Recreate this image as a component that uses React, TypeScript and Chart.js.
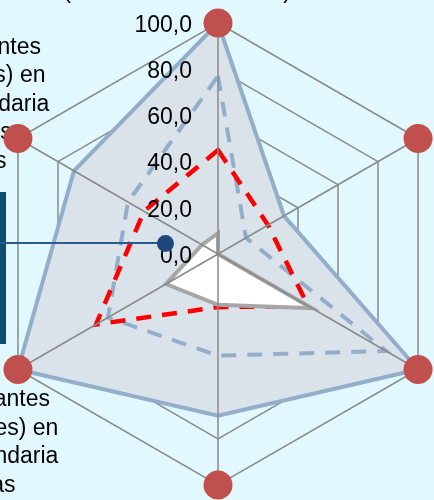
import React, { useEffect, useRef } from "react";
import { Chart, registerables } from "chart.js";

Chart.register(...registerables);

// ---- data ----
const categories: string[][] = [
  ["Docentes titulados", "(en escuelas urbanas)"],
  ["Docentes titulados", "(en escuelas rurales)"],
  ["Escuelas con", "internet"],
  ["Escuelas con", "biblioteca"],
  ["Estudiantes", "(hombres) en", "la secundaria", "otras"],
  ["Estudiantes", "(mujeres) en", "la secundaria", "becas", "otras"],
];
const seriesSolid = [100, 33, 100, 70, 100, 72];
const seriesBlueDash = [77, 14, 84, 44, 55, 45];
const seriesRedDash = [45, 25, 45, 23, 61, 37];
const seriesGray = [9, 0, 47, 22, 26, 8];
const maxMarks = [100, 100, 100, 100, 100, 100];
const scaleMin = 0;
const scaleMax = 100;
const scaleStep = 20;

// ---- styles ----
const BG = "#e1f8fe";
const GRID = "#8a8a8a";
const BLUE = "#93aecb";
const FILL = "#dbe3ea";
const RED = "#ff0000";
const GRAY = "#a6a6a6";
const CIRCLE = "#c0504d";
const FONT = '23px "Liberation Sans", Arial, sans-serif';

const fmt = (v: number) => v.toFixed(1).replace(".", ",");

const overlayPlugin = {
  id: "overlay",
  beforeDatasetDraw(chart: any, args: any) {
    if (args.index !== 0) return;
    const scale = chart.scales.r;
    const ctx = chart.ctx as CanvasRenderingContext2D;
    const n = chart.data.labels.length;
    const R = scale.drawingArea;
    ctx.save();
    // spokes drawn above the fills
    ctx.strokeStyle = GRID;
    ctx.lineWidth = 1.5;
    for (let i = 0; i < n; i++) {
      const p = scale.getPointPosition(i, R);
      ctx.beginPath();
      ctx.moveTo(scale.xCenter, scale.yCenter);
      ctx.lineTo(p.x, p.y);
      ctx.stroke();
    }
    // tick labels
    ctx.font = FONT;
    ctx.fillStyle = "#000";
    ctx.textAlign = "right";
    ctx.textBaseline = "middle";
    scale.ticks.forEach((t: any) => {
      const d = scale.getDistanceFromCenterForValue(t.value);
      ctx.fillText(fmt(t.value), scale.xCenter - 26, scale.yCenter - d + 2.5);
    });
    // point labels
    ctx.textAlign = "center";
    const lh = 28.5;
    const labels: string[][] = chart.data.labels;
    labels.forEach((lines, i) => {
      const p = scale.getPointPosition(i, R);
      let x = p.x;
      let y0 = p.y;
      if (i === 0) {
        x = p.x - 41;
        y0 = p.y - 25 - (lines.length - 1) * lh;
        ctx.textBaseline = "alphabetic";
      } else {
        ctx.textBaseline = "middle";
        if (i === 1) { x = p.x + 200; y0 = p.y - 91; }
        else if (i === 2) { x = p.x + 200; y0 = p.y + 30; }
        else if (i === 3) { x = p.x; y0 = p.y + 34; }
        else if (i === 4) { x = p.x - 28; y0 = p.y + 30.5; }
        else { x = p.x - 37; y0 = p.y - 91; }
      }
      lines.forEach((s, k) => ctx.fillText(s, x, y0 + k * lh));
    });
    ctx.restore();
  },
};

export default function App() {
  const ref = useRef<HTMLCanvasElement | null>(null);

  useEffect(() => {
    if (!ref.current) return;
    const chart = new Chart(ref.current, {
      type: "radar",
      data: {
        labels: categories as any,
        datasets: [
          {
            label: "Máximo",
            data: maxMarks,
            showLine: false,
            pointRadius: 14.5,
            pointBackgroundColor: CIRCLE,
            pointBorderWidth: 0,
            borderWidth: 0,
            fill: false,
          },
          {
            label: "Serie 4",
            data: seriesGray,
            borderColor: GRAY,
            backgroundColor: "#ffffff",
            borderWidth: 4,
            fill: true,
            pointRadius: 0,
          },
          {
            label: "Serie 3",
            data: seriesRedDash,
            borderColor: RED,
            borderWidth: 4.5,
            borderDash: [15, 11],
            fill: false,
            pointRadius: 0,
          },
          {
            label: "Serie 2",
            data: seriesBlueDash,
            borderColor: BLUE,
            borderWidth: 4,
            borderDash: [15, 11],
            fill: false,
            pointRadius: 0,
          },
          {
            label: "Serie 1",
            data: seriesSolid,
            borderColor: BLUE,
            backgroundColor: FILL,
            borderWidth: 4,
            fill: true,
            pointRadius: 0,
          },
        ],
      },
      options: {
        animation: false,
        responsive: false,
        maintainAspectRatio: false,
        layout: { padding: { top: 23, bottom: 15, left: 0, right: 0 } },
        plugins: { legend: { display: false }, tooltip: { enabled: false } },
        elements: { line: { tension: 0 } },
        scales: {
          r: {
            min: scaleMin,
            max: scaleMax,
            beginAtZero: true,
            ticks: { stepSize: scaleStep, display: false },
            grid: { color: GRID, lineWidth: 1.5, circular: false },
            angleLines: { display: false },
            pointLabels: { display: false },
          },
        },
      },
      plugins: [overlayPlugin],
    });
    return () => chart.destroy();
  }, []);

  return (
    <div
      style={{
        position: "fixed",
        left: 0,
        top: 0,
        width: 434,
        height: 500,
        overflow: "hidden",
        background: BG,
      }}
    >
      <canvas
        ref={ref}
        width={466}
        height={500}
        style={{ position: "absolute", left: -15, top: 0, width: 466, height: 500 }}
      />
      <div style={{ position: "absolute", left: 0, top: 192, width: 6, height: 152, background: "#0d4e70" }} />
      <div style={{ position: "absolute", left: 0, top: 242, width: 160, height: 2, background: "#2b5b8e" }} />
      <div
        style={{
          position: "absolute",
          left: 157,
          top: 235,
          width: 17,
          height: 17,
          borderRadius: "50%",
          background: "#1f477a",
        }}
      />
    </div>
  );
}
